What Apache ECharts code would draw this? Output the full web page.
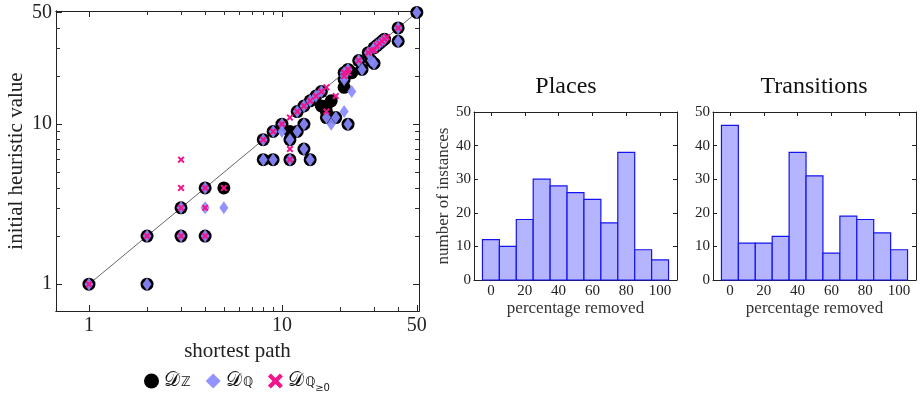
<!DOCTYPE html>
<html><head><meta charset="utf-8">
<script src="https://cdn.jsdelivr.net/npm/echarts@6/dist/echarts.min.js"></script>
<style>html,body{margin:0;padding:0;background:#fff}#c{width:923px;height:395px}</style>
</head><body><div id="c"></div>
<script>
// ---------- data ----------
const zPoints = [[1,1],[2,2],[2,1],[3,3],[3,2],[4,4],[4,2],[5,4],
  [8,8],[8,6],[9,9],[9,6],[10,10],[11,9],[11,8],[11,6],[12,12],[12,9],[13,13],[13,10],[13,7],
  [14,14],[14,6],[15,15],[16,16],[16,13],[17,13],[18,14],[17,12],[17,11],[19,11],[22,10],
  [21,17],[21,19],[21,21],[22,22],[23,21],[25,25],[26,22],[28,28],[30,24],[29,25],[30,30],
  [31,31],[32,32],[33,33],[34,34],[40,40],[40,33],[50,50]];
const qPoints = [[1,1],[2,2],[2,1],[3,3],[3,2],[4,4],[4,2],[4,3],[5,3],
  [8,8],[8,6],[9,9],[9,6],[10,10],[10,9],[11,8],[11,6],[12,12],[12,9],[13,13],[13,10],[13,7],
  [14,14],[14,6],[15,15],[16,16],[17,11],[18,10],[19,11],[22,10],[21,12],[23,16],[21,19],
  [21,20],[21,21],[22,22],[25,25],[26,22],[28,28],[29,25],[30,24],[30,30],[31,31],[32,32],
  [33,33],[34,34],[40,40],[40,33],[50,50]];
const qNonNegPoints = [[1,1],[2,2],[3,3],[3,2],[4,4],[4,2],[4,3],[5,4],[3,4],[3,6],
  [8,8],[9,9],[10,10],[11,11],[11,7],[11,6],[12,12],[13,13],[14,14],[15,15],[16,16],[17,17],
  [19,15],[17,12],[21,20],[21,21],[22,21],[22,22],[25,25],[28,28],[29,29],[30,29],[31,31],
  [32,32],[33,33],[34,34],[35,35],[40,40]];
const diagonal = [[1,1],[50,50]];
const scatterXRange = [0.675, 51.3];
const scatterYRange = [0.68, 51];
const scatterMajorTicks = [1, 10, 50];
const scatterMinorTicks = [2,3,4,5,6,7,8,9,20,30,40];

const histBins = [0,10,20,30,40,50,60,70,80,90,100];
const placesCounts = [12,10,18,30,28,26,24,17,38,9,6];
const transitionsCounts = [46,11,11,13,38,31,8,19,18,14,9];
const histXTicks = [0,20,40,60,80,100];
const histXRange = [-10, 110];
const histYRange = [0, 50];
const binWidth = 10;

// ---------- styles ----------
const SERIF = "'Liberation Serif','DejaVu Serif',serif";
const AX = '#222';
const crossPath = 'path://M0,2L2,0L5,3L8,0L10,2L7,5L10,8L8,10L5,7L2,10L0,8L3,5Z';

function scatterX(idx, pos, opts) {
  return Object.assign({
    type: 'log', gridIndex: idx, position: pos, min: scatterXRange[0], max: scatterXRange[1],
    axisLine: { show: true, onZero: false, lineStyle: { color: AX, width: 1 } },
    splitLine: { show: false }, minorTick: { show: false }, minorSplitLine: { show: false },
    axisLabel: { show: false }
  }, opts);
}
function scatterY(idx, pos, opts) {
  return Object.assign({
    type: 'log', gridIndex: idx, position: pos, min: scatterYRange[0], max: scatterYRange[1],
    axisLine: { show: true, onZero: false, lineStyle: { color: AX, width: 1 } },
    splitLine: { show: false }, minorTick: { show: false }, minorSplitLine: { show: false },
    axisLabel: { show: false }
  }, opts);
}
const majorTick = { show: true, inside: true, length: 6, customValues: scatterMajorTicks, lineStyle: { color: AX } };
const minorTick = { show: true, inside: true, length: 4, customValues: scatterMinorTicks, lineStyle: { color: '#333', width: 1 } };
const minorLine = { show: true, onZero: false, lineStyle: { color: AX, width: 1 } };

function histX(idx, pos, labels) {
  return {
    type: 'value', gridIndex: idx, position: pos, min: histXRange[0], max: histXRange[1],
    axisLine: { show: true, onZero: false, lineStyle: { color: AX } },
    splitLine: { show: false },
    axisTick: { show: true, inside: true, length: 4, customValues: histXTicks, lineStyle: { color: AX } },
    axisLabel: labels ? { show: true, customValues: histXTicks, fontFamily: SERIF, fontSize: 15, color: AX, margin: 4 } : { show: false },
    name: labels ? 'percentage removed' : '', nameLocation: 'middle', nameGap: 20,
    nameTextStyle: { fontFamily: SERIF, fontSize: 17, color: '#333' }
  };
}
function histY(idx, pos, labels, name) {
  return {
    type: 'value', gridIndex: idx, position: pos, min: histYRange[0], max: histYRange[1], interval: 10,
    axisLine: { show: true, onZero: false, lineStyle: { color: AX } },
    splitLine: { show: false },
    axisTick: { show: true, inside: true, length: 4, lineStyle: { color: AX } },
    axisLabel: labels ? { show: true, fontFamily: SERIF, fontSize: 15, color: AX, margin: 3 } : { show: false },
    name: name || '', nameLocation: 'middle', nameGap: 18,
    nameTextStyle: { fontFamily: SERIF, fontSize: 17, color: '#333' }
  };
}
function histSeries(counts, axisIdx) {
  return {
    type: 'custom', xAxisIndex: axisIdx, yAxisIndex: axisIdx,
    data: histBins.map((b, i) => [b, counts[i]]),
    encode: { x: 0, y: 1 },
    renderItem(params, api) {
      const x = api.value(0), y = api.value(1);
      const a = api.coord([x - binWidth / 2, y]);
      const b = api.coord([x + binWidth / 2, 0]);
      return { type: 'rect', shape: { x: a[0], y: a[1], width: b[0] - a[0], height: b[1] - a[1] },
        style: { fill: '#b4b4ff', stroke: '#1414f0', lineWidth: 1.2 } };
    }
  };
}

const option = {
  animation: false,
  backgroundColor: '#fff',
  grid: [
    { left: 56, top: 11, width: 363, height: 300 },
    { left: 56, top: 11, width: 363, height: 300 },
    { left: 474, top: 112, width: 203, height: 168 },
    { left: 713, top: 112, width: 203, height: 168 }
  ],
  xAxis: [
    scatterX(0, 'bottom', { axisTick: majorTick,
      axisLabel: { show: true, customValues: scatterMajorTicks, fontFamily: SERIF, fontSize: 20, color: AX, margin: 5 },
      name: 'shortest path', nameLocation: 'middle', nameGap: 26,
      nameTextStyle: { fontFamily: SERIF, fontSize: 21, color: '#222' } }),
    scatterX(0, 'top', { axisTick: majorTick }),
    scatterX(1, 'bottom', { axisLine: minorLine, axisTick: minorTick }),
    scatterX(1, 'top', { axisLine: minorLine, axisTick: minorTick }),
    histX(2, 'bottom', true), histX(2, 'top', false),
    histX(3, 'bottom', true), histX(3, 'top', false)
  ],
  yAxis: [
    scatterY(0, 'left', { axisTick: majorTick,
      axisLabel: { show: true, customValues: scatterMajorTicks, fontFamily: SERIF, fontSize: 20, color: AX, margin: 4 },
      name: 'initial heuristic value', nameLocation: 'middle', nameGap: 29,
      nameTextStyle: { fontFamily: SERIF, fontSize: 21, color: '#222' } }),
    scatterY(0, 'right', { axisTick: majorTick }),
    scatterY(1, 'left', { axisLine: minorLine, axisTick: minorTick }),
    scatterY(1, 'right', { axisLine: minorLine, axisTick: minorTick }),
    histY(2, 'left', true, 'number of instances'), histY(2, 'right', false),
    histY(3, 'left', true), histY(3, 'right', false)
  ],
  legend: {
    left: 139, top: 366, itemGap: 15, itemWidth: 15, itemHeight: 15,
    data: [
      { name: 'Z', icon: 'circle' },
      { name: 'Q', icon: 'diamond' },
      { name: 'Qnn', icon: crossPath }
    ],
    formatter(name) {
      if (name === 'Z') return '{d|𝒟}{s|ℤ}';
      if (name === 'Q') return '{d|𝒟}{s|ℚ}';
      return '{d|𝒟}{s|ℚ}{ss|≥0}';
    },
    textStyle: {
      rich: {
        d: { fontFamily: "'DejaVu Serif',serif", fontSize: 20, color: '#111', lineHeight: 24, verticalAlign: 'middle' },
        s: { fontFamily: "'DejaVu Sans',sans-serif", fontSize: 13, color: '#111', lineHeight: 14, verticalAlign: 'bottom', padding: [0, 0, 4, 1] },
        ss: { fontFamily: "'DejaVu Sans',sans-serif", fontSize: 10, color: '#111', lineHeight: 11, verticalAlign: 'bottom', padding: [0, 0, 0, 0] }
      }
    }
  },
  graphic: [
    { type: 'text', x: 566, y: 87, style: { text: 'Places', font: "24px 'Liberation Serif', serif", fill: '#111', align: 'center', verticalAlign: 'middle' } },
    { type: 'text', x: 814, y: 87, style: { text: 'Transitions', font: "24px 'Liberation Serif', serif", fill: '#111', align: 'center', verticalAlign: 'middle' } }
  ],
  series: [
    { type: 'line', xAxisIndex: 0, yAxisIndex: 0, data: diagonal, symbol: 'none', silent: true,
      lineStyle: { color: '#555', width: 0.9 }, z: 1 },
    { name: 'Z', type: 'scatter', xAxisIndex: 0, yAxisIndex: 0, data: zPoints, symbol: 'circle', symbolSize: 13,
      itemStyle: { color: '#000', opacity: 1 }, z: 2 },
    { name: 'Q', type: 'scatter', xAxisIndex: 0, yAxisIndex: 0, data: qPoints, symbol: 'diamond', symbolSize: [9, 13],
      itemStyle: { color: '#8a8aff', opacity: 0.92 }, z: 3 },
    { name: 'Qnn', type: 'scatter', xAxisIndex: 0, yAxisIndex: 0, data: qNonNegPoints, symbol: crossPath, symbolSize: 7,
      itemStyle: { color: '#f2148c', opacity: 1 }, z: 4 },
    { type: 'scatter', xAxisIndex: 2, yAxisIndex: 2, data: [], silent: true },
    histSeries(placesCounts, 4),
    histSeries(transitionsCounts, 6)
  ]
};
const chart = echarts.init(document.getElementById('c'), null, { renderer: 'canvas' });
chart.setOption(option);
</script>
</body></html>
